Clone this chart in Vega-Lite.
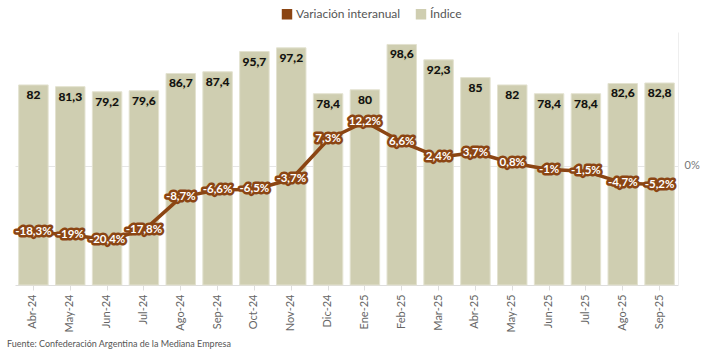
{
  "$schema": "https://vega.github.io/schema/vega-lite/v6.json",
  "width": 663,
  "height": 253,
  "autosize": {"type": "none"},
  "padding": {"left": 15, "top": 32, "right": 28, "bottom": 68},
  "background": "white",
  "config": {
    "view": {"stroke": null},
    "font": "Lato",
    "locale": {
      "number": {"decimal": ",", "thousands": ".", "grouping": [3], "currency": ["$", ""], "minus": "-"}
    }
  },
  "title": {
    "text": "Fuente: Confederación Argentina de la Mediana Empresa",
    "orient": "bottom",
    "anchor": "start",
    "fontSize": 9,
    "fontWeight": "normal",
    "color": "#555555",
    "font": "Lato",
    "offset": 8,
    "dx": -8
  },
  "data": {
    "values": [
      {"mes": "Abr-24", "indice": 82, "var": -0.183},
      {"mes": "May-24", "indice": 81.3, "var": -0.19},
      {"mes": "Jun-24", "indice": 79.2, "var": -0.204},
      {"mes": "Jul-24", "indice": 79.6, "var": -0.178},
      {"mes": "Ago-24", "indice": 86.7, "var": -0.087},
      {"mes": "Sep-24", "indice": 87.4, "var": -0.066},
      {"mes": "Oct-24", "indice": 95.7, "var": -0.065},
      {"mes": "Nov-24", "indice": 97.2, "var": -0.037},
      {"mes": "Dic-24", "indice": 78.4, "var": 0.073},
      {"mes": "Ene-25", "indice": 80, "var": 0.122},
      {"mes": "Feb-25", "indice": 98.6, "var": 0.066},
      {"mes": "Mar-25", "indice": 92.3, "var": 0.024},
      {"mes": "Abr-25", "indice": 85, "var": 0.037},
      {"mes": "May-25", "indice": 82, "var": 0.008},
      {"mes": "Jun-25", "indice": 78.4, "var": -0.01},
      {"mes": "Jul-25", "indice": 78.4, "var": -0.015},
      {"mes": "Ago-25", "indice": 82.6, "var": -0.047},
      {"mes": "Sep-25", "indice": 82.8, "var": -0.052}
    ]
  },
  "encoding": {
    "x": {
      "field": "mes",
      "type": "ordinal",
      "sort": null,
      "scale": {"paddingInner": 0.2, "paddingOuter": 0.1},
      "axis": {
        "title": null,
        "labelAngle": -90,
        "labelColor": "#666666",
        "labelFontSize": 11,
        "labelPadding": 4,
        "domainColor": "#dddddd",
        "tickColor": "#dddddd",
        "tickSize": 5
      }
    }
  },
  "layer": [
    {
      "layer": [
        {
          "mark": {"type": "bar", "stroke": "#e3e2d0", "strokeWidth": 1},
          "encoding": {
            "y": {"field": "indice", "type": "quantitative", "scale": {"domain": [0, 103.7], "nice": false}, "axis": null},
            "color": {
              "datum": "Índice",
              "scale": {"domain": ["Variación interanual", "Índice"], "range": ["#8b4513", "#cfceb1"]},
              "legend": {
                "title": null,
                "orient": "none",
                "direction": "horizontal",
                "legendX": 266,
                "legendY": -24,
                "symbolType": "square",
                "symbolSize": 80,
                "labelFontSize": 12,
                "labelColor": "#555555",
                "labelFont": "Lato",
                "columnPadding": 12,
                "symbolOffset": 0,
                "labelOffset": 3,
                "encode": {
                  "symbols": {"update": {"fill": {"scale": "color", "field": "value"}, "stroke": {"value": "transparent"}}}
                }
              }
            }
          }
        },
        {
          "mark": {"type": "text", "baseline": "middle", "dy": 10, "fontWeight": "bold", "fontSize": 12, "color": "#111111", "stroke": "#c9c8a2", "strokeWidth": 2.5, "strokeOpacity": 0.6},
          "encoding": {
            "y": {"field": "indice", "type": "quantitative", "scale": {"domain": [0, 103.7], "nice": false}, "axis": null},
            "text": {"field": "indice", "type": "quantitative", "format": "~r"}
          }
        },
        {
          "mark": {"type": "text", "baseline": "middle", "dy": 10, "fontWeight": "bold", "fontSize": 12, "color": "#111111"},
          "encoding": {
            "y": {"field": "indice", "type": "quantitative", "scale": {"domain": [0, 103.7], "nice": false}, "axis": null},
            "text": {"field": "indice", "type": "quantitative", "format": "~r"}
          }
        }
      ]
    },
    {
      "encoding": {
        "y": {
          "field": "var",
          "type": "quantitative",
          "scale": {"domain": [-0.329, 0.37], "nice": false, "zero": false},
          "axis": {
            "orient": "right",
            "title": null,
            "values": [0],
            "format": "~%",
            "grid": true,
            "gridColor": "#e6e6e6",
            "gridWidth": 1,
            "ticks": false,
            "domain": true,
            "domainColor": "#eeeeee",
            "labelColor": "#777777",
            "labelFontSize": 11,
            "labelPadding": 6
          }
        }
      },
      "layer": [
        {
          "mark": {"type": "line", "strokeWidth": 3.5, "strokeJoin": "round"},
          "encoding": {
            "color": {"datum": "Variación interanual"}
          }
        },
        {
          "mark": {"type": "text", "fontWeight": "bold", "fontSize": 11.5, "color": "#8b4513", "stroke": "#8b4513", "strokeWidth": 5, "strokeJoin": "round"},
          "encoding": {
            "text": {"field": "var", "type": "quantitative", "format": "~%"}
          }
        },
        {
          "mark": {"type": "text", "fontWeight": "bold", "fontSize": 11.5, "color": "#ffffff"},
          "encoding": {
            "text": {"field": "var", "type": "quantitative", "format": "~%"}
          }
        }
      ]
    }
  ],
  "resolve": {"scale": {"y": "independent"}}
}
